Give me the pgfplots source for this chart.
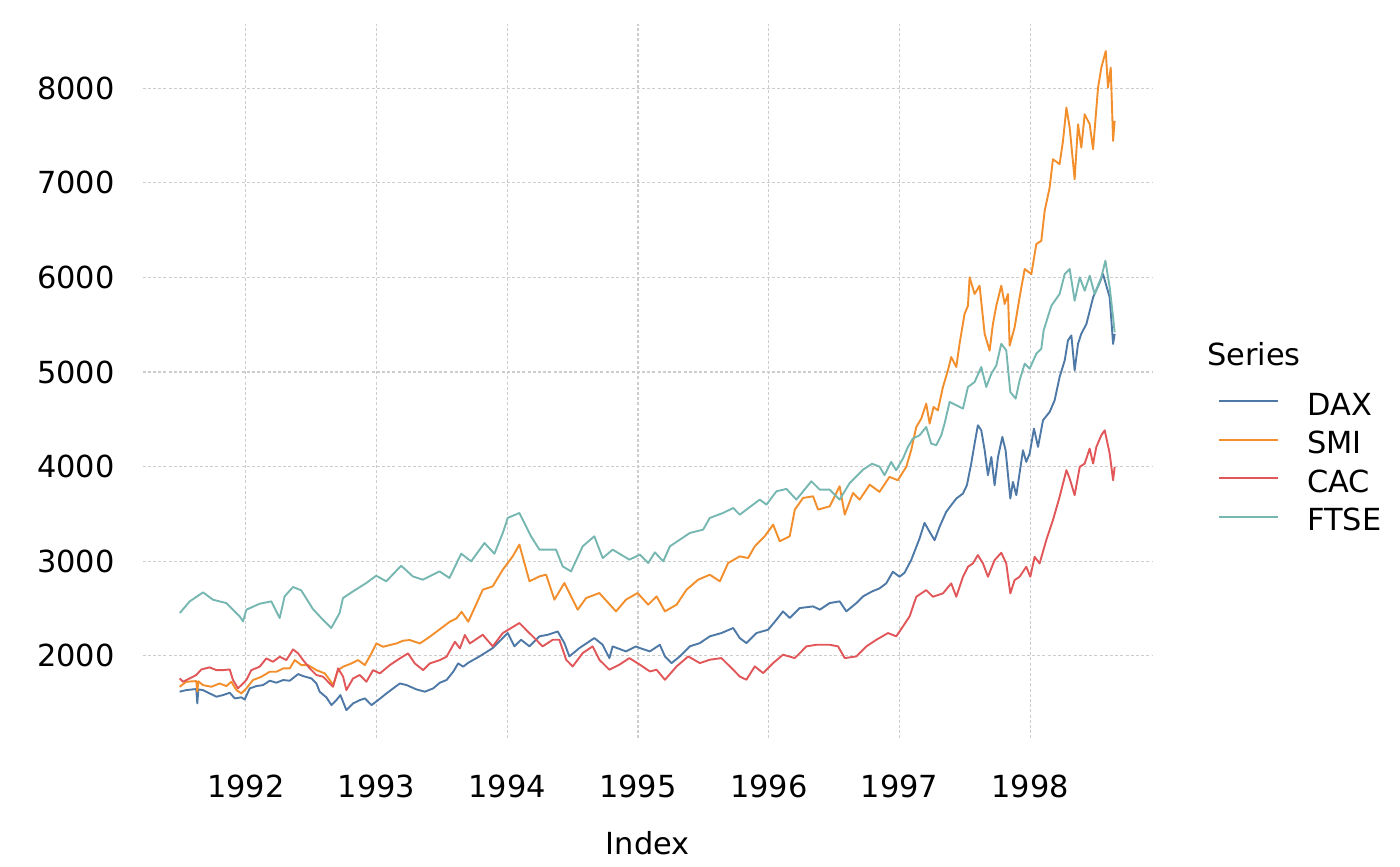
\documentclass[border=0pt]{standalone}
\usepackage{pgfplots}
\pgfplotsset{compat=1.18}
\usepackage{fontspec}
\setmainfont{DejaVu Sans}
\definecolor{cDAX}{HTML}{4E79A7}
\definecolor{cSMI}{HTML}{F28E2B}
\definecolor{cCAC}{HTML}{E15759}
\definecolor{cFTSE}{HTML}{76B7B2}
\definecolor{gridc}{HTML}{CDCDCD}
\newcommand{\fs}{\fontsize{15.2}{18}\selectfont}
\begin{document}
\begin{tikzpicture}
\path[use as bounding box] (-71.35pt,-63.85pt) rectangle (628.65pt,369.15pt);
\begin{axis}[
  scale only axis,
  clip mode=individual,
  width=505pt, height=357.15pt,
  xmin=1991.2124, xmax=1998.936,
  ymin=1127, ymax=8680,
  xtick={1992,1993,1994,1995,1996,1997,1998},
  ytick={2000,3000,4000,5000,6000,7000,8000},
  /pgf/number format/assume math mode=true,
  /pgf/number format/1000 sep={},
  ticklabel style={font=\fs},
  xticklabel style={anchor=north, inner sep=0pt, yshift=-18.3pt},
  yticklabel style={anchor=east, inner sep=0pt, xshift=-13.8pt},
  axis line style={draw=none},
  major tick length=0pt,
  grid=major,
  major grid style={color=gridc, line width=0.6pt, dash pattern=on 1.5pt off 1.1pt},
  xlabel={Index},
  xlabel style={font=\fs, at={(axis description cs:0.5,0)}, anchor=base, yshift=-57.85pt, inner sep=0pt},
  every axis plot/.append style={line width=0.95pt, line join=round},
  legend cell align=left,
  legend image code/.code={\draw[#1] (0pt,5.5pt) -- (29.5pt,5.5pt);},
  legend style={at={(axis description cs:1.0647,0.4837)}, anchor=north west,
    draw=none, fill=none, inner sep=0pt, font=\fs, column sep=14pt, row sep=0pt,
    nodes={inner sep=0pt, text height=11.1pt, text depth=8.1pt}},
]
\addplot[cDAX] coordinates {
(1991.495,1620)(1991.546,1637)(1991.622,1648)(1991.630,1496)(1991.638,1644)(1991.673,1637)
(1991.724,1602)(1991.776,1567)(1991.827,1584)(1991.878,1609)(1991.916,1549)(1991.967,1560)
(1991.992,1538)(1992.031,1655)(1992.082,1679)(1992.133,1690)(1992.184,1736)(1992.235,1715)
(1992.286,1743)(1992.337,1736)(1992.401,1806)(1992.439,1785)(1992.503,1760)(1992.541,1707)
(1992.566,1619)(1992.617,1560)(1992.656,1478)(1992.694,1531)(1992.724,1584)(1992.770,1425)
(1992.821,1496)(1992.872,1531)(1992.911,1549)(1992.962,1478)(1993.013,1531)(1993.077,1602)
(1993.128,1655)(1993.179,1707)(1993.230,1690)(1993.306,1644)(1993.370,1620)(1993.434,1655)
(1993.485,1715)(1993.536,1743)(1993.587,1831)(1993.625,1919)(1993.663,1884)(1993.702,1926)
(1993.788,1993)(1993.889,2081)(1993.953,2169)(1994.004,2240)(1994.055,2099)(1994.106,2169)
(1994.170,2099)(1994.246,2205)(1994.310,2222)(1994.386,2257)(1994.437,2134)(1994.475,1993)
(1994.552,2081)(1994.666,2187)(1994.730,2116)(1994.781,1975)(1994.806,2099)(1994.908,2046)
(1994.984,2099)(1995.015,2081)(1995.091,2046)(1995.167,2116)(1995.206,1993)(1995.256,1922)
(1995.320,1993)(1995.396,2099)(1995.473,2134)(1995.549,2205)(1995.638,2240)(1995.728,2293)
(1995.778,2187)(1995.829,2134)(1995.906,2240)(1995.995,2275)(1996.059,2381)(1996.109,2469)
(1996.160,2399)(1996.237,2504)(1996.339,2522)(1996.390,2487)(1996.466,2557)(1996.542,2575)
(1996.593,2469)(1996.670,2557)(1996.721,2628)(1996.790,2680)(1996.847,2712)(1996.898,2765)
(1996.949,2888)(1997.000,2835)(1997.038,2877)(1997.089,3011)(1997.153,3240)(1997.191,3405)
(1997.230,3310)(1997.268,3222)(1997.306,3363)(1997.357,3522)(1997.395,3592)(1997.434,3662)
(1997.485,3715)(1997.515,3803)(1997.548,4032)(1997.574,4243)(1997.599,4437)(1997.625,4384)
(1997.651,4173)(1997.676,3909)(1997.702,4102)(1997.727,3803)(1997.753,4102)(1997.786,4314)
(1997.811,4173)(1997.847,3662)(1997.867,3838)(1997.893,3698)(1997.944,4173)(1997.969,4050)
(1997.995,4138)(1998.028,4402)(1998.059,4208)(1998.097,4490)(1998.148,4578)(1998.186,4701)
(1998.224,4947)(1998.263,5123)(1998.288,5334)(1998.314,5387)(1998.339,5018)(1998.365,5299)
(1998.390,5405)(1998.429,5508)(1998.480,5789)(1998.531,5948)(1998.556,6036)(1998.607,5789)
(1998.633,5297)(1998.645,5402)
};
\addlegendentry{DAX}
\addplot[cSMI] coordinates {
(1991.495,1672)(1991.546,1725)(1991.622,1732)(1991.630,1620)(1991.638,1730)(1991.673,1690)
(1991.737,1672)(1991.801,1707)(1991.852,1679)(1991.890,1725)(1991.929,1637)(1991.967,1602)
(1992.005,1655)(1992.056,1743)(1992.120,1778)(1992.184,1831)(1992.235,1831)(1992.286,1866)
(1992.337,1866)(1992.375,1954)(1992.426,1901)(1992.477,1901)(1992.541,1848)(1992.605,1813)
(1992.643,1743)(1992.668,1690)(1992.707,1848)(1992.745,1884)(1992.809,1919)(1992.860,1954)
(1992.911,1901)(1992.962,2025)(1993.000,2130)(1993.051,2095)(1993.102,2113)(1993.153,2130)
(1993.204,2159)(1993.255,2166)(1993.332,2130)(1993.408,2201)(1993.459,2254)(1993.510,2307)
(1993.561,2360)(1993.612,2395)(1993.651,2465)(1993.702,2360)(1993.813,2698)(1993.889,2734)
(1993.966,2910)(1994.042,3051)(1994.093,3175)(1994.170,2787)(1994.246,2839)(1994.297,2857)
(1994.361,2593)(1994.437,2769)(1994.539,2487)(1994.603,2610)(1994.704,2663)(1994.832,2469)
(1994.908,2593)(1994.997,2663)(1995.078,2540)(1995.142,2628)(1995.206,2469)(1995.295,2540)
(1995.371,2698)(1995.460,2804)(1995.549,2857)(1995.626,2787)(1995.689,2980)(1995.778,3051)
(1995.842,3033)(1995.893,3157)(1995.969,3263)(1996.033,3386)(1996.084,3210)(1996.160,3263)
(1996.199,3545)(1996.262,3668)(1996.339,3686)(1996.377,3545)(1996.466,3580)(1996.542,3792)
(1996.581,3492)(1996.644,3721)(1996.695,3651)(1996.772,3809)(1996.847,3733)(1996.923,3891)
(1996.987,3856)(1997.051,3997)(1997.089,4173)(1997.128,4419)(1997.166,4507)(1997.204,4666)
(1997.230,4454)(1997.260,4630)(1997.293,4595)(1997.332,4842)(1997.370,5018)(1997.395,5158)
(1997.434,5053)(1997.459,5299)(1997.497,5613)(1997.523,5701)(1997.536,6001)(1997.574,5825)
(1997.612,5913)(1997.651,5402)(1997.689,5226)(1997.714,5508)(1997.740,5701)(1997.778,5913)
(1997.804,5719)(1997.829,5825)(1997.842,5279)(1997.880,5473)(1997.918,5789)(1997.957,6089)
(1998.008,6036)(1998.046,6353)(1998.084,6388)(1998.110,6705)(1998.148,6951)(1998.173,7250)
(1998.224,7198)(1998.250,7444)(1998.276,7796)(1998.301,7585)(1998.339,7039)(1998.365,7620)
(1998.390,7373)(1998.416,7725)(1998.454,7620)(1998.480,7356)(1998.518,8007)(1998.543,8218)
(1998.577,8394)(1998.594,8007)(1998.615,8218)(1998.633,7444)(1998.645,7655)
};
\addlegendentry{SMI}
\addplot[cCAC] coordinates {
(1991.495,1760)(1991.520,1725)(1991.571,1760)(1991.622,1796)(1991.661,1855)(1991.724,1877)
(1991.776,1848)(1991.827,1848)(1991.878,1855)(1991.903,1743)(1991.941,1655)(1991.967,1690)
(1992.005,1743)(1992.043,1848)(1992.107,1884)(1992.158,1972)(1992.209,1937)(1992.260,1989)
(1992.311,1954)(1992.362,2067)(1992.401,2025)(1992.439,1954)(1992.490,1866)(1992.541,1796)
(1992.592,1778)(1992.643,1707)(1992.668,1672)(1992.707,1866)(1992.745,1778)(1992.770,1637)
(1992.821,1760)(1992.872,1796)(1992.923,1725)(1992.974,1848)(1993.026,1813)(1993.102,1901)
(1993.179,1972)(1993.242,2025)(1993.293,1919)(1993.357,1848)(1993.408,1919)(1993.485,1954)
(1993.536,1989)(1993.600,2148)(1993.638,2078)(1993.676,2219)(1993.714,2130)(1993.813,2222)
(1993.889,2099)(1993.966,2240)(1994.030,2293)(1994.093,2346)(1994.157,2257)(1994.221,2169)
(1994.271,2099)(1994.348,2169)(1994.399,2169)(1994.450,1958)(1994.501,1887)(1994.577,2028)
(1994.653,2099)(1994.704,1958)(1994.781,1852)(1994.857,1905)(1994.934,1975)(1995.015,1905)
(1995.091,1834)(1995.142,1852)(1995.206,1746)(1995.295,1887)(1995.384,1993)(1995.473,1922)
(1995.549,1958)(1995.638,1975)(1995.728,1852)(1995.778,1781)(1995.829,1746)(1995.893,1887)
(1995.957,1817)(1996.033,1922)(1996.109,2011)(1996.199,1975)(1996.288,2099)(1996.364,2116)
(1996.466,2116)(1996.530,2099)(1996.581,1975)(1996.670,1993)(1996.746,2099)(1996.823,2169)
(1996.912,2240)(1996.975,2205)(1997.026,2310)(1997.077,2416)(1997.128,2624)(1997.204,2694)
(1997.255,2624)(1997.332,2659)(1997.395,2765)(1997.434,2624)(1997.485,2835)(1997.523,2941)
(1997.561,2976)(1997.599,3064)(1997.638,2976)(1997.676,2835)(1997.727,3011)(1997.778,3089)
(1997.816,2976)(1997.847,2659)(1997.880,2800)(1997.918,2835)(1997.969,2941)(1998.000,2835)
(1998.033,3046)(1998.071,2976)(1998.122,3222)(1998.173,3434)(1998.224,3680)(1998.276,3962)
(1998.301,3874)(1998.339,3698)(1998.378,3997)(1998.416,4032)(1998.454,4190)(1998.480,4032)
(1998.505,4208)(1998.543,4331)(1998.569,4384)(1998.607,4138)(1998.633,3856)(1998.645,3997)
};
\addlegendentry{CAC}
\addplot[cFTSE] coordinates {
(1991.496,2451)(1991.572,2575)(1991.674,2670)(1991.750,2592)(1991.852,2557)(1991.954,2416)
(1991.980,2363)(1992.005,2487)(1992.107,2550)(1992.196,2575)(1992.260,2399)(1992.298,2628)
(1992.362,2727)(1992.425,2691)(1992.514,2494)(1992.578,2399)(1992.654,2293)(1992.718,2451)
(1992.744,2610)(1992.820,2680)(1992.922,2769)(1992.998,2846)(1993.075,2787)(1993.189,2952)
(1993.278,2839)(1993.355,2804)(1993.482,2892)(1993.558,2822)(1993.648,3079)(1993.724,2998)
(1993.826,3192)(1993.902,3079)(1993.966,3298)(1994.004,3457)(1994.093,3510)(1994.182,3263)
(1994.246,3122)(1994.373,3122)(1994.424,2945)(1994.488,2892)(1994.577,3157)(1994.666,3263)
(1994.730,3033)(1994.806,3122)(1994.934,3016)(1995.015,3069)(1995.078,2980)(1995.129,3093)
(1995.193,2998)(1995.244,3157)(1995.320,3227)(1995.396,3298)(1995.498,3333)(1995.549,3457)
(1995.651,3510)(1995.728,3562)(1995.778,3492)(1995.829,3545)(1995.931,3651)(1995.982,3598)
(1996.059,3739)(1996.135,3764)(1996.211,3651)(1996.326,3845)(1996.390,3756)(1996.466,3756)
(1996.542,3651)(1996.619,3827)(1996.721,3968)(1996.790,4030)(1996.847,4000)(1996.885,3909)
(1996.936,4050)(1996.974,3962)(1997.026,4085)(1997.064,4208)(1997.102,4296)(1997.153,4331)
(1997.204,4419)(1997.242,4243)(1997.281,4226)(1997.319,4331)(1997.344,4454)(1997.383,4683)
(1997.434,4648)(1997.485,4613)(1997.523,4842)(1997.574,4894)(1997.625,5053)(1997.663,4842)
(1997.702,4982)(1997.740,5070)(1997.778,5299)(1997.816,5229)(1997.847,4789)(1997.888,4718)
(1997.918,4912)(1997.957,5088)(1997.995,5035)(1998.046,5194)(1998.084,5246)(1998.102,5440)
(1998.161,5701)(1998.224,5825)(1998.263,6036)(1998.301,6089)(1998.339,5754)(1998.378,6001)
(1998.416,5860)(1998.454,6018)(1998.492,5825)(1998.543,6001)(1998.574,6177)(1998.607,5895)
(1998.633,5578)(1998.645,5420)
};
\addlegendentry{FTSE}
\node[font=\fs, anchor=base west, inner sep=0pt] at (axis description cs:1.0535,0.5226) {Series};
\end{axis}
\end{tikzpicture}
\end{document}
